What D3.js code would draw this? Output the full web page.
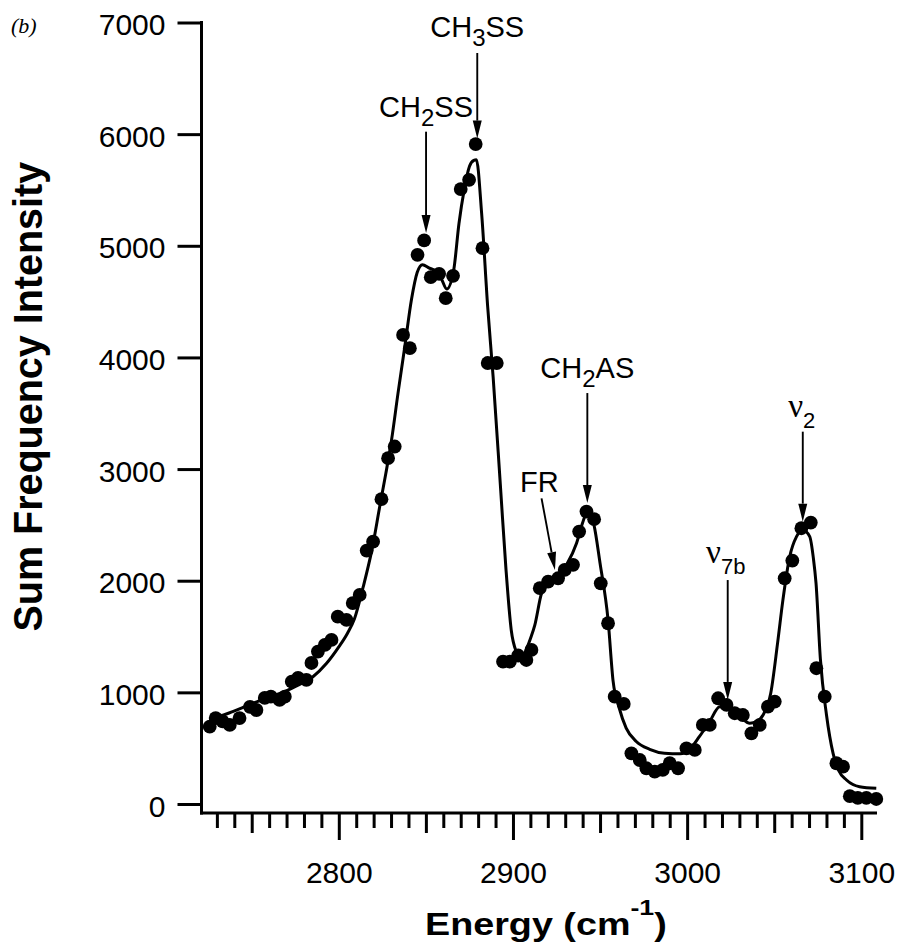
<!DOCTYPE html>
<html><head><meta charset="utf-8">
<script src="https://cdn.jsdelivr.net/npm/d3@7"></script>
<style>body{margin:0;background:#fff} svg{display:block}</style>
</head><body>
<svg id="c" width="898" height="947"></svg>
<script>
// ---- data ----
const pointEnergy = [2725.9,2729.3,2733.3,2737.4,2743,2749,2752.7,2757.5,2761,2766,2769,2773,2776.6,2781.4,2784.3,2788,2792,2795.8,2799.4,2804.4,2808,2812,2816,2819.7,2824.5,2828.3,2832.1,2836.9,2840.8,2845.2,2849,2852.8,2857.6,2861.4,2865.6,2870,2874.8,2878.6,2882.5,2885.5,2890.7,2894.3,2898.2,2903,2907.7,2910.6,2915.4,2920.2,2925.9,2929.7,2934.5,2938,2942.2,2946.6,2950.4,2954.6,2958.4,2963.6,2968,2972.8,2976.6,2981.4,2986,2990,2994.8,2999.6,3004.4,3009,3013,3017.8,3022.6,3027.3,3032,3036.9,3041.7,3046.4,3050.3,3056,3060.4,3065.6,3071,3074.2,3079,3085.7,3089.5,3093.4,3098,3102.9,3108.6];
const pointIntensity = [693,770,740,708,770,870,842,950,961,932,961,1096,1129,1111,1263,1365,1425,1470,1678,1649,1800,1873,2270,2350,2730,3098,3202,4202,4083,4919,5048,4719,4749,4531,4731,5508,5591,5911,4979,3950,3950,1275,1275,1330,1290,1380,1933,1992,2022,2097,2142,2440,2619,2551,1977,1619,961,896,454,394,320,290,305,365,320,499,484,708,708,947,887,813,797,633,708,872,917,2022,2180,2470,2521,1216,961,365,334,70,55,55,45];

const fitEnergy = [2726,2730,2737,2745,2752,2760,2768,2776,2785,2793,2800,2805,2809,2814,2819,2823.5,2827,2830.3,2834,2837.9,2841.7,2845,2848,2852,2856,2859,2862,2866,2869,2872,2875,2877.5,2879,2882,2885.5,2888.6,2893,2896,2899,2902,2904.5,2907,2910,2912.5,2916.4,2920,2925,2931,2936.5,2940,2942.5,2944.5,2946.5,2950,2954.6,2957.5,2961,2965,2970.8,2978.5,2987,2996,3002,3007,3013,3018.7,3024,3030,3036,3040,3043.6,3048,3052,3055,3058.9,3062.8,3066.5,3070.4,3072.5,3074,3076.5,3080,3083.8,3087,3091.5,3099,3108.6];
const fitIntensity = [745,775,815,865,910,960,1000,1060,1138,1260,1407,1530,1660,1944,2276,2664,2960,3262,3680,4098,4516,4760,4830,4800,4770,4700,4612,4785,5200,5502,5711,5765,5771,5293,4450,3829,2800,2100,1559,1360,1300,1360,1480,1600,1888,1980,2037,2150,2336,2520,2610,2600,2500,2157,1649,1100,860,680,560,490,455,450,500,603,740,872,860,790,723,740,797,992,1450,1828,2216,2395,2455,2395,2200,1978,1300,800,454,300,215,155,141];

const yTickValues = [0,1000,2000,3000,4000,5000,6000,7000];
const xTickLabels = [2800,2900,3000,3100];
const xMinorStart = 2730, xMinorEnd = 3100, xMinorStep = 10;

// annotations: label parts, arrow (energy, intensity) start -> tip, text anchor point
const annLabel = ["CH3SS","CH2SS","CH2AS","FR","v7b","v2"];
const annParts = [["CH","3","SS"],["CH","2","SS"],["CH","2","AS"],["FR","",""],["ν","7b",""],["ν","2",""]];
const annTextE = [2879.5,2850.1,2942.7,2915.1,3022.2,3065.8];
const annTextI = [6870,6156,3813,2792,2156,3469];
const annStartE = [2879.5,2850.1,2942.7,2916.4,3023.3,3066.4];
const annStartI = [6727,6022,3681,2738,2006,3335];
const annTipE = [2879.5,2850.1,2942.7,2924.1,3023.3,3066.4];
const annTipI = [5960,5114,2696,2096,932,2529];

// ---- drawing ----
const svg = d3.select("#c");
const SANS = "'Liberation Sans', Arial, Helvetica, sans-serif";
const x = d3.scaleLinear().domain([2800,3100]).range([338.8,861.3]);
const y = d3.scaleLinear().domain([0,7000]).range([804,22.5]);
const axisX = 201.5, axisY = 813;

// y axis
const yAx = svg.append("g").attr("transform",`translate(${axisX},0)`)
  .call(d3.axisLeft(y).tickValues(yTickValues).tickSize(24).tickSizeOuter(0).tickPadding(12).tickFormat(d3.format("d")));
yAx.select(".domain").remove();
yAx.selectAll(".tick line").attr("stroke","#000").attr("stroke-width",3);
yAx.selectAll(".tick text").attr("font-family",SANS).attr("font-size",30).attr("fill","#000").attr("dy","0.4em");

// x axis
const xTicks = d3.range(xMinorStart, xMinorEnd + 0.1, xMinorStep);
const xAx = svg.append("g").attr("transform",`translate(0,${axisY})`)
  .call(d3.axisBottom(x).tickValues(xTicks).tickSize(15).tickSizeOuter(0)
    .tickFormat(d => xTickLabels.includes(d) ? d3.format("d")(d) : ""));
xAx.select(".domain").remove();
xAx.selectAll(".tick line").attr("stroke","#000").attr("stroke-width",3)
  .attr("y2", d => d % 100 === 0 ? 27 : (d % 50 === 0 ? 20 : 15));
xAx.selectAll(".tick text").attr("font-family",SANS).attr("font-size",30).attr("fill","#000")
  .attr("y",70).attr("dy",0);

// axis lines
svg.append("line").attr("x1",axisX).attr("x2",axisX).attr("y1",y(7000)-1.5).attr("y2",axisY+1.5)
  .attr("stroke","#000").attr("stroke-width",3);
svg.append("line").attr("x1",axisX-1.5).attr("x2",877).attr("y1",axisY).attr("y2",axisY)
  .attr("stroke","#000").attr("stroke-width",3);

// fit line
const fit = fitEnergy.map((e,i)=>[e,fitIntensity[i]]);
svg.append("path").datum(fit)
  .attr("d", d3.line().x(d=>x(d[0])).y(d=>y(d[1])).curve(d3.curveMonotoneX))
  .attr("fill","none").attr("stroke","#000").attr("stroke-width",3).attr("stroke-linejoin","round");

// points
const pts = pointEnergy.map((e,i)=>[e,pointIntensity[i]]);
svg.append("g").selectAll("circle").data(pts).join("circle")
  .attr("cx",d=>x(d[0])).attr("cy",d=>y(d[1])).attr("r",6.9).attr("fill","#000");

// annotations
annLabel.forEach((lab,i)=>{
  const p = annParts[i];
  const isNu = p[0] === "ν";
  const t = svg.append("text").attr("x",x(annTextE[i])).attr("y",y(annTextI[i]))
    .attr("text-anchor","middle").attr("font-family",SANS).attr("font-size",29).attr("fill","#000");
  t.append("tspan").text(p[0])
    .attr("font-family", isNu ? "'Liberation Serif','Times New Roman',serif" : SANS)
    .attr("font-size", isNu ? 33 : 29);
  if (p[1]) {
    t.append("tspan").text(p[1]).attr("font-size", isNu ? 22 : 24).attr("dy", isNu ? 11 : 9);
  }
  if (p[2]) {
    t.append("tspan").text(p[2]).attr("font-size",29).attr("dy", -9);
  }
  // arrow
  const x1 = x(annStartE[i]), y1 = y(annStartI[i]), x2 = x(annTipE[i]), y2 = y(annTipI[i]);
  const ang = Math.atan2(y2-y1, x2-x1);
  const L = 18, W = 4.5;
  const bx = x2 - L*Math.cos(ang), by = y2 - L*Math.sin(ang);
  svg.append("line").attr("x1",x1).attr("y1",y1).attr("x2",bx).attr("y2",by)
    .attr("stroke","#000").attr("stroke-width",1.9);
  const px = -Math.sin(ang)*W, py = Math.cos(ang)*W;
  svg.append("path").attr("d",`M${x2},${y2}L${bx+px},${by+py}L${bx-px},${by-py}Z`).attr("fill","#000");
});

// (b) panel label
svg.append("text").attr("x",11).attr("y",33).attr("font-family","'Liberation Serif','Times New Roman',serif")
  .attr("font-style","italic").attr("font-size",22).attr("fill","#000").text("(b)");

// x axis label
const xl = svg.append("g");
const xt = xl.append("text").attr("font-family",SANS).attr("font-weight","bold").attr("font-size",31).attr("fill","#000");
xt.append("tspan").text("Energy (cm");
xt.append("tspan").text("-1").attr("font-size",22).attr("dy",-20);
xt.append("tspan").text(")").attr("dy",20);
const xw = xt.node().getBBox().width || 242;
xl.attr("transform",`translate(425,935) scale(${242/xw},1)`);

// y axis label
const yl = svg.append("g");
const yt = yl.append("text").attr("font-family",SANS).attr("font-weight","bold").attr("font-size",41)
  .attr("fill","#000").attr("text-anchor","middle").text("Sum Frequency Intensity");
const yw = yt.node().getBBox().width || 470;
yl.attr("transform",`translate(41.7,396.7) rotate(-90) scale(${470/yw},1)`);
</script>
</body></html>
